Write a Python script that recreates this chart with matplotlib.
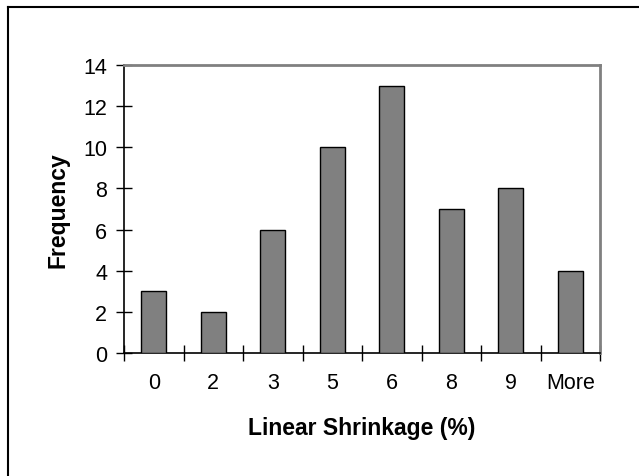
import matplotlib
matplotlib.use("Agg")
import matplotlib.pyplot as plt
from matplotlib.lines import Line2D
import numpy as np

categories = ["0", "2", "3", "5", "6", "8", "9", "More"]
frequency = [3, 2, 6, 10, 13, 7, 8, 4]
yticks = [0, 2, 4, 6, 8, 10, 12, 14]

plt.rcParams['font.family'] = ['Liberation Sans', 'DejaVu Sans']

W, H = 639, 477
fig = plt.figure(figsize=(W / 100, H / 100), dpi=100)
ax = fig.add_axes([124 / W, 1 - 354 / H, 476 / W, 288 / H])

x = np.arange(len(categories))
ax.bar(x, frequency, width=0.42, color="#808080", edgecolor="black", linewidth=1.0, zorder=3)

ax.set_xlim(-0.5, len(categories) - 0.5)
ax.set_ylim(0, 14)
ax.set_yticks(yticks)
ax.set_yticklabels([str(v) for v in yticks], fontsize=15.5)
ax.set_xticks(np.arange(len(categories) + 1) - 0.5)
ax.set_xticklabels([])
ax.set_xticks(x, minor=True)
ax.set_xticklabels(categories, minor=True, fontsize=15.5)
ax.tick_params(axis='x', which='major', direction='inout', length=12, width=1, color='black')
ax.tick_params(axis='x', which='minor', length=0, pad=14)
ax.tick_params(axis='y', direction='inout', length=12, width=1, color='black', pad=6)

for s in ['left', 'bottom']:
    ax.spines[s].set_color('black')
    ax.spines[s].set_linewidth(1.2)
for s in ['top', 'right']:
    ax.spines[s].set_color('#808080')
    ax.spines[s].set_linewidth(2)

ax.set_xlabel("Linear Shrinkage (%)", fontsize=16.5, fontweight='bold', labelpad=16)
ax.set_ylabel("Frequency", fontsize=16.5, fontweight='bold', labelpad=10)

# outer chart frame (left and top visible)
fig.add_artist(Line2D([8 / W, 8 / W], [0, 1 - 8 / H], color='black', linewidth=1.5, transform=fig.transFigure))
fig.add_artist(Line2D([8 / W, 1], [1 - 8 / H, 1 - 8 / H], color='black', linewidth=1.5, transform=fig.transFigure))

fig.savefig("out.png", dpi=100)
